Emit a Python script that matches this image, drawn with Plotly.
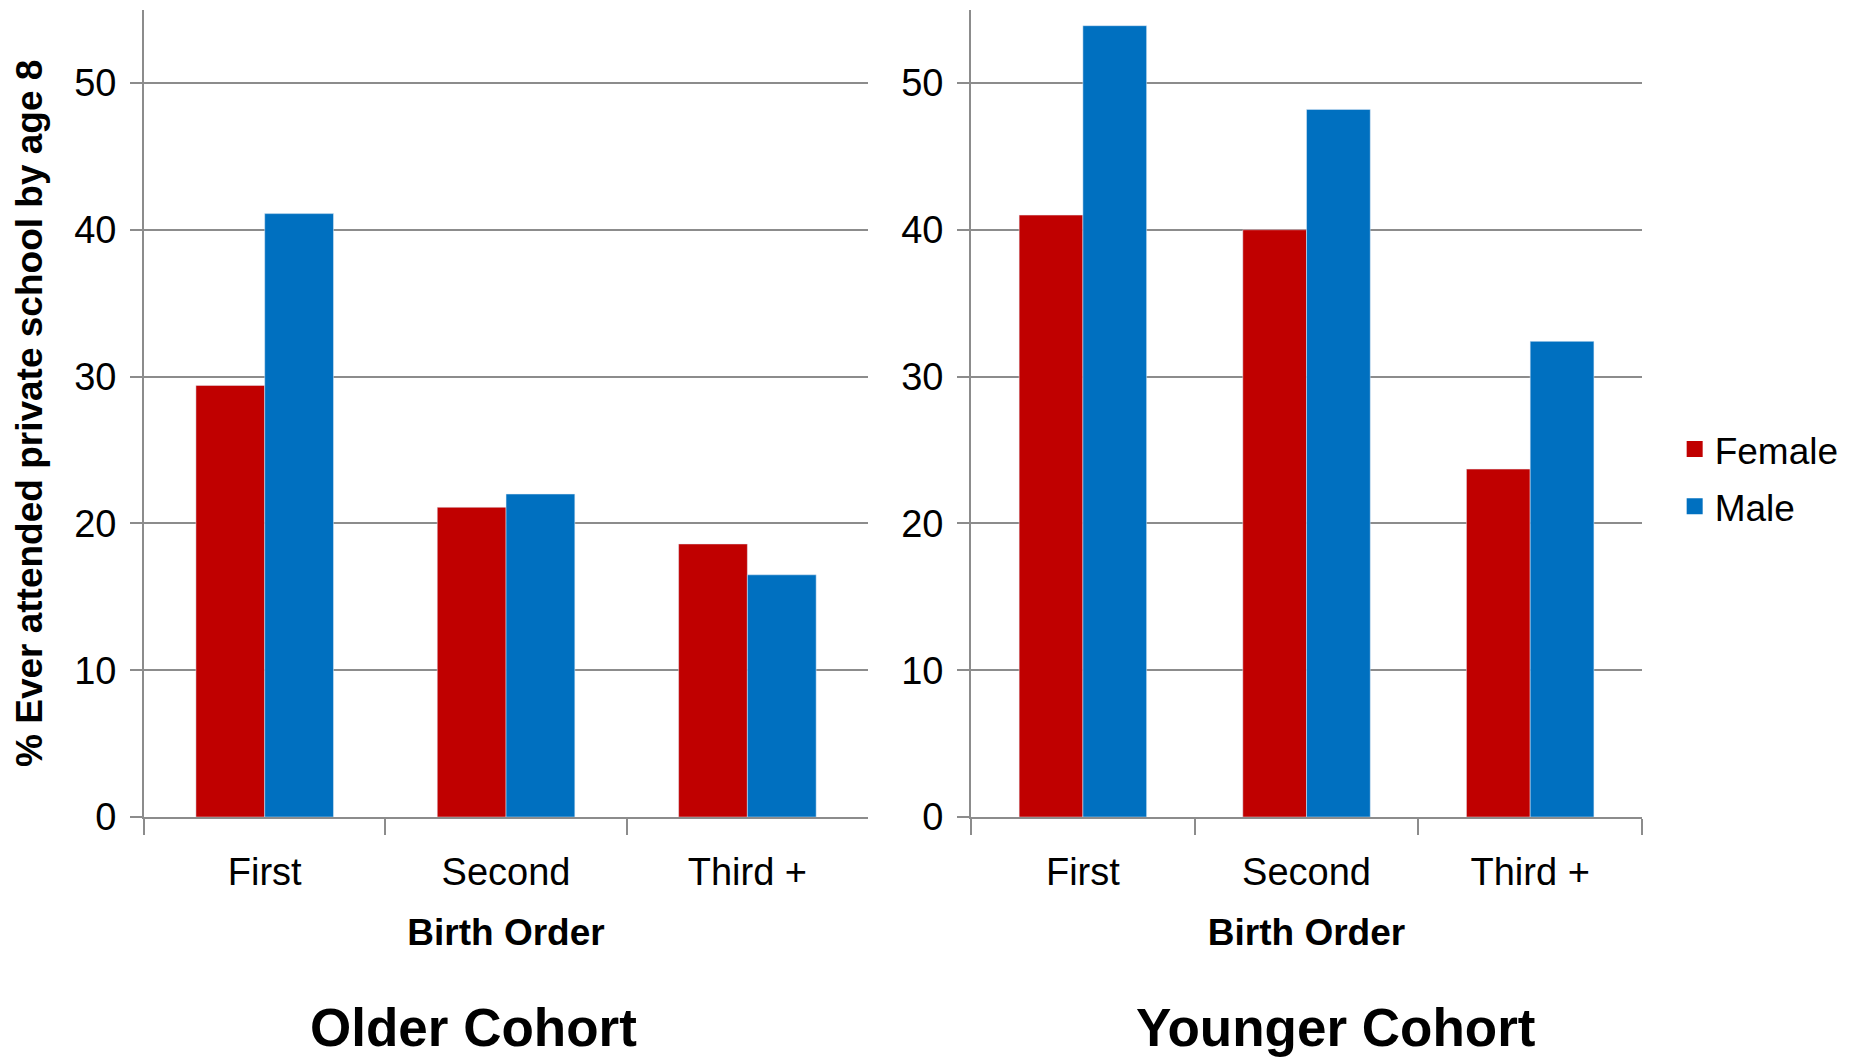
import plotly.graph_objects as go

categories = ["First", "Second", "Third +"]
older_female = [29.4, 21.1, 18.6]
older_male = [41.1, 22.0, 16.5]
younger_female = [41.0, 40.0, 23.7]
younger_male = [53.9, 48.2, 32.4]
y_ticks = [0, 10, 20, 30, 40, 50]

RED = "#C00000"
BLUE = "#0070C0"
GRID = "#8C8C8C"
FONT = "Liberation Sans, Arial, sans-serif"

fig = go.Figure()
fig.add_trace(go.Bar(x=categories, y=older_female, name="Female", marker_color=RED,
                     legendgroup="f", showlegend=False, xaxis="x", yaxis="y"))
fig.add_trace(go.Bar(x=categories, y=older_male, name="Male", marker_color=BLUE,
                     legendgroup="m", showlegend=False, xaxis="x", yaxis="y"))
fig.add_trace(go.Bar(x=categories, y=younger_female, name="Female", marker_color=RED,
                     legendgroup="f", showlegend=False, xaxis="x2", yaxis="y2"))
fig.add_trace(go.Bar(x=categories, y=younger_male, name="Male", marker_color=BLUE,
                     legendgroup="m", showlegend=False, xaxis="x2", yaxis="y2"))
# legend entries with larger square swatches
for name, col, grp in [("Female", RED, "f"), ("Male", BLUE, "m")]:
    fig.add_trace(go.Scatter(x=[None], y=[None], mode="markers", name=name, legendgroup=grp,
                             marker=dict(symbol="square", size=19, color=col),
                             xaxis="x2", yaxis="y2", hoverinfo="skip"))

xcommon = dict(showline=True, linecolor=GRID, linewidth=2, ticks="outside",
               tickson="boundaries", ticklen=16, tickcolor=GRID, tickwidth=2,
               showgrid=False, automargin=False, ticklabelstandoff=20,
               tickfont=dict(size=38, color="black"),
               title=dict(text="<b>Birth Order</b>", font=dict(size=37, color="black"), standoff=27))
ycommon = dict(range=[0, 55], tickvals=y_ticks, showline=True, linecolor=GRID, linewidth=2,
               ticks="outside", ticklen=12, tickcolor=GRID, tickwidth=2, automargin=False,
               showgrid=True, gridcolor=GRID, gridwidth=2, zeroline=False, ticklabelstandoff=6,
               tickfont=dict(size=38, color="black"))

fig.update_layout(
    width=1856, height=1060,
    margin=dict(l=0, r=0, t=0, b=0),
    paper_bgcolor="white", plot_bgcolor="white",
    font=dict(family=FONT, color="black"),
    barmode="group", bargap=0.43, bargroupgap=0,
    xaxis=dict(domain=[0.0776, 0.4677], anchor="y", **xcommon),
    xaxis2=dict(domain=[0.5232, 0.8847], anchor="y2", **xcommon),
    yaxis=dict(domain=[0.2292, 0.991], anchor="x",
               title=dict(text="<b>% Ever attended private school by age 8</b>",
                          font=dict(size=37, color="black"), standoff=20),
               **ycommon),
    yaxis2=dict(domain=[0.2292, 0.991], anchor="x2", **ycommon),
    legend=dict(x=0.9023, y=0.549, xanchor="left", yanchor="middle",
                font=dict(size=37, color="black"), tracegroupgap=6,
                itemsizing="trace", itemwidth=30, bgcolor="rgba(0,0,0,0)"),
    annotations=[
        dict(text="<b>Older Cohort</b>", x=0.2549, y=0.0311, xref="paper", yref="paper",
             xanchor="center", yanchor="middle", showarrow=False, font=dict(size=53, color="black")),
        dict(text="<b>Younger Cohort</b>", x=0.7193, y=0.0311, xref="paper", yref="paper",
             xanchor="center", yanchor="middle", showarrow=False, font=dict(size=53, color="black")),
    ],
)

fig.write_html("out.html", config={"displayModeBar": False},
               post_script="document.body.style.margin='0px';")
